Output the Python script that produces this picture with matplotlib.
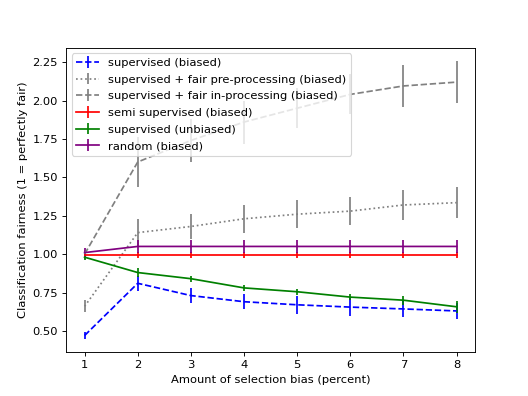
import matplotlib
matplotlib.use('Agg')
import matplotlib.pyplot as plt
import numpy as np

# cantidad de sesgo de seleccion
bias = [1, 2, 3, 4, 5, 6, 7, 8]

sup_biased = [0.47, 0.81, 0.73, 0.69, 0.67, 0.655, 0.643, 0.63]
sup_biased_err = [0.02, 0.05, 0.05, 0.05, 0.06, 0.06, 0.05, 0.05]

fair_pre = [0.66, 1.14, 1.18, 1.23, 1.26, 1.28, 1.32, 1.335]
fair_pre_err = [0.04, 0.09, 0.08, 0.09, 0.09, 0.09, 0.10, 0.10]

fair_in = [1.00, 1.60, 1.74, 1.86, 1.95, 2.04, 2.095, 2.12]
fair_in_err = [0.03, 0.16, 0.14, 0.14, 0.13, 0.13, 0.135, 0.135]

semi_sup = [0.995, 0.995, 0.995, 0.995, 0.995, 0.995, 0.995, 0.995]
semi_sup_err = [0.02, 0.02, 0.02, 0.02, 0.02, 0.02, 0.02, 0.02]

sup_unbiased = [0.98, 0.88, 0.84, 0.78, 0.755, 0.72, 0.70, 0.657]
sup_unbiased_err = [0.02, 0.03, 0.02, 0.02, 0.02, 0.02, 0.03, 0.04]

rand = [1.01, 1.05, 1.05, 1.05, 1.05, 1.05, 1.05, 1.05]
rand_err = [0.03, 0.04, 0.04, 0.04, 0.04, 0.04, 0.04, 0.04]

fig = plt.figure(figsize=(6.4, 4.8), dpi=82.5)
ax = fig.add_subplot(111)

ax.errorbar(bias, sup_biased, yerr=sup_biased_err, color='blue', linestyle='--', label='supervised (biased)')
ax.errorbar(bias, fair_pre, yerr=fair_pre_err, color='gray', linestyle=':', label='supervised + fair pre-processing (biased)')
ax.errorbar(bias, fair_in, yerr=fair_in_err, color='gray', linestyle='--', label='supervised + fair in-processing (biased)')
ax.errorbar(bias, semi_sup, yerr=semi_sup_err, color='red', label='semi supervised (biased)')
ax.errorbar(bias, sup_unbiased, yerr=sup_unbiased_err, color='green', label='supervised (unbiased)')
ax.errorbar(bias, rand, yerr=rand_err, color='purple', label='random (biased)')

ax.set_xlabel('Amount of selection bias (percent)')
ax.set_ylabel('Classification fairness (1 = perfectly fair)')
ax.set_yticks(np.arange(0.5, 2.26, 0.25))
ax.legend(loc='upper left', labelspacing=0.58)

fig.savefig('out.png', dpi=82.5)
